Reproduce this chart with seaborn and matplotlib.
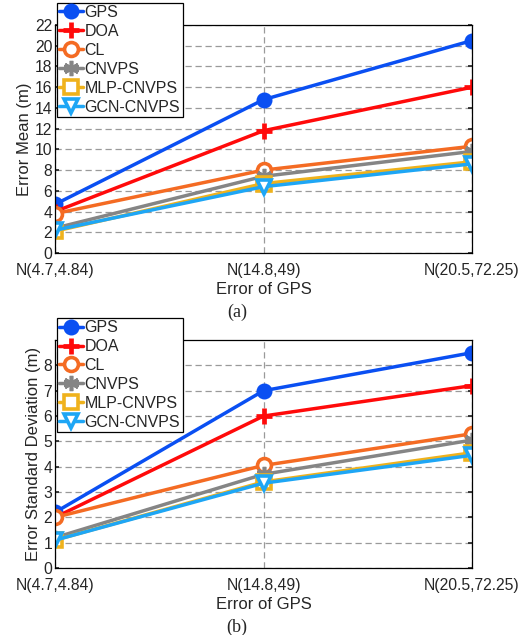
import numpy as np
import pandas as pd
import matplotlib
matplotlib.use("Agg")
import matplotlib.pyplot as plt
import seaborn as sns

# categories on the x axis
x_labels = ["N(4.7,4.84)", "N(14.8,49)", "N(20.5,72.25)"]
methods = ["GPS", "DOA", "CL", "CNVPS", "MLP-CNVPS", "GCN-CNVPS"]

# (a) error mean
mean_gps = [4.7, 14.8, 20.5]
mean_doa = [4.0, 11.8, 16.0]
mean_cl = [3.8, 8.0, 10.3]
mean_cnvps = [2.4, 7.4, 9.8]
mean_mlp = [2.1, 6.7, 8.8]
mean_gcn = [2.2, 6.4, 8.6]

# (b) error standard deviation
std_gps = [2.2, 7.0, 8.5]
std_doa = [2.0, 6.0, 7.2]
std_cl = [2.0, 4.05, 5.3]
std_cnvps = [1.2, 3.7, 5.05]
std_mlp = [1.1, 3.4, 4.55]
std_gcn = [1.1, 3.35, 4.45]

colors = {"GPS": "#0a4ff2", "DOA": "#ff0a0a", "CL": "#f46b23",
          "CNVPS": "#858585", "MLP-CNVPS": "#efb21c", "GCN-CNVPS": "#1ea6f5"}
markers = {"GPS": "o", "DOA": "P", "CL": "o", "CNVPS": (6, 2, 0),
           "MLP-CNVPS": "s", "GCN-CNVPS": "v"}
hollow = {"CL", "MLP-CNVPS", "GCN-CNVPS"}

sns.set_theme(style="white")
plt.rcParams["font.family"] = ["Liberation Sans", "DejaVu Sans"]


def make_df(series):
    rows = []
    for m, vals in zip(methods, series):
        for i, v in enumerate(vals):
            rows.append({"method": m, "x": i, "value": v})
    return pd.DataFrame(rows)


def draw(ax, df, ylabel, ymax, yticks, caption):
    for m in methods:
        d = df[df["method"] == m]
        mk = markers[m]
        if m == "DOA":
            kw = dict(marker="+", markersize=12, markeredgewidth=3.4)
        elif m == "CNVPS":
            kw = dict(marker=mk, markersize=11, markeredgewidth=2.6)
        else:
            kw = dict(marker=mk, markersize=10, markeredgewidth=2.6 if m in hollow else 1.5)
        if m in hollow:
            kw["markerfacecolor"] = "white"
        sns.lineplot(data=d, x="x", y="value", ax=ax, color=colors[m],
                     linewidth=2.5, label=m, markeredgecolor=colors[m], **kw)
    ax.set_xlim(0, 2)
    ax.set_ylim(0, ymax)
    ax.set_xticks([0, 1, 2])
    ax.set_xticklabels(x_labels, fontsize=11.3)
    ax.set_yticks(yticks)
    ax.tick_params(axis="y", labelsize=11.3, direction="in", length=3, right=True, left=True, pad=2)
    ax.tick_params(axis="x", direction="in", length=3, top=False, pad=7)
    ax.grid(True, color="#9a9a9a", linestyle=(0, (5, 3)), linewidth=0.9)
    ax.set_axisbelow(True)
    for s in ax.spines.values():
        s.set_color("black")
        s.set_linewidth(0.9)
    ax.set_xlabel("Error of GPS", fontsize=12, labelpad=3)
    ax.set_ylabel(ylabel, fontsize=12, labelpad=2)
    ax.text(0.436, -0.222, caption, transform=ax.transAxes, ha="center", va="top",
            fontsize=13, family="Liberation Serif")
    leg = ax.legend(loc="upper left", bbox_to_anchor=(0.0, 1.105), fontsize=11.5,
                    frameon=True, fancybox=False, handlelength=1.5,
                    handletextpad=0.1, borderpad=0.15, labelspacing=0.25,
                    borderaxespad=0.1)
    leg.get_frame().set_edgecolor("black")
    leg.get_frame().set_linewidth(0.9)
    leg.get_frame().set_alpha(1)


fig = plt.figure(figsize=(5.25, 6.35), dpi=100)
ax1 = fig.add_axes([0.105, 0.6016, 0.794, 0.359])
ax2 = fig.add_axes([0.105, 0.1055, 0.794, 0.359])

df_mean = make_df([mean_gps, mean_doa, mean_cl, mean_cnvps, mean_mlp, mean_gcn])
df_std = make_df([std_gps, std_doa, std_cl, std_cnvps, std_mlp, std_gcn])

draw(ax1, df_mean, "Error Mean (m)", 22, list(range(0, 23, 2)), "(a)")
draw(ax2, df_std, "Error Standard Deviation (m)", 9, list(range(0, 9)), "(b)")

fig.savefig("out.png", dpi=100)
